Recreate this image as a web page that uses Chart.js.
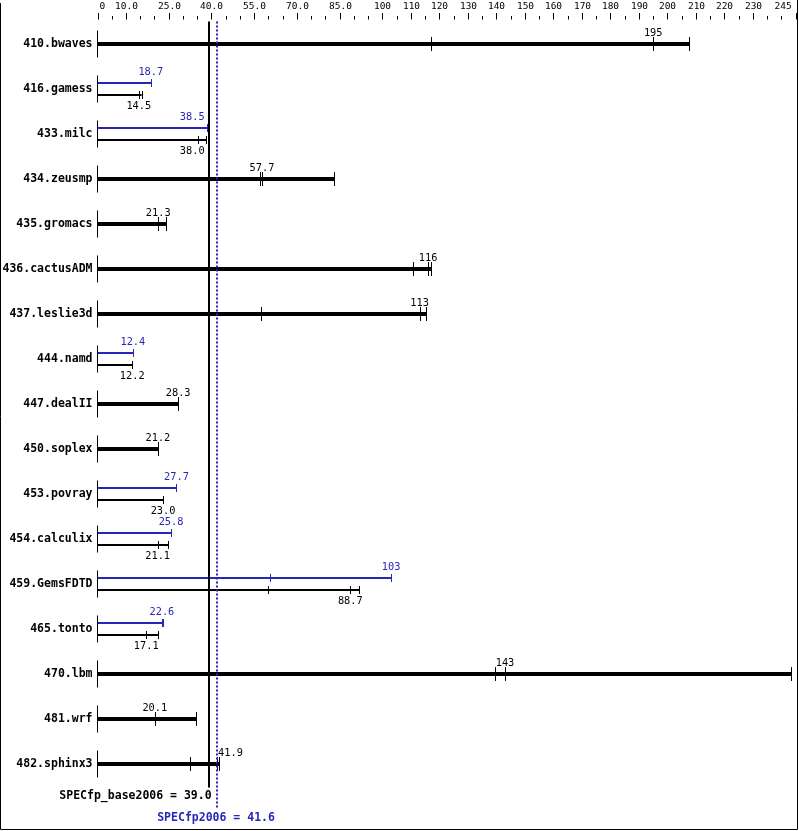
<!DOCTYPE html>
<html>
<head>
<meta charset="utf-8">
<script src="https://cdn.jsdelivr.net/npm/chart.js@4.4.1/dist/chart.umd.min.js"></script>
<style>
  html, body { margin: 0; padding: 0; background: #fff; }
  #wrap { width: 799px; height: 831px; }
</style>
</head>
<body>
<div id="wrap"><canvas id="specChart" width="799" height="831"></canvas></div>
<script>
var benchmarks = ['410.bwaves', '416.gamess', '433.milc', '434.zeusmp', '435.gromacs', '436.cactusADM',
    '437.leslie3d', '444.namd', '447.dealII', '450.soplex', '453.povray', '454.calculix',
    '459.GemsFDTD', '465.tonto', '470.lbm', '481.wrf', '482.sphinx3'];

// median ratio of each benchmark (base run)
var baseMedian = [195, 14.5, 38.0, 57.7, 21.3, 116, 113, 12.2, 28.3, 21.2, 23.0, 21.1, 88.7, 17.1, 143, 20.1, 41.9];
// the three base runs
var baseRuns = [
    [117, 195, 207.7], [14.5, 14.5, 15.5], [35.4, 38.0, 38.2], [56.9, 57.7, 83.0],
    [21.2, 21.3, 24.0], [110.8, 116, 117], [57.5, 113, 115.3], [12.2, 12.2, 12.2],
    [28.3, 28.3, 28.4], [21.2, 21.2, 21.3], [23.0, 23.0, 23.1], [21.1, 21.1, 24.8],
    [59.9, 88.7, 91.8], [17.1, 17.1, 21.2], [139.4, 143, 243.4], [20.1, 20.2, 34.7],
    [32.6, 41.9, 42.7]
];
// peak only where it differs from base
var peakMedian = [null, 18.7, 38.5, null, null, null, null, 12.4, null, null, 27.7, 25.8, 103, 22.6, null, null, null];
var peakRuns = [
    null, [18.7, 18.7, 18.8], [38.5, 38.5, 38.6], null,
    null, null, null, [12.4, 12.4, 12.6],
    null, null, [27.7, 27.7, 27.7], [25.8, 25.8, 25.9],
    [60.6, 103, 103.1], [22.6, 22.6, 23.0], null, null,
    null
];

var baseScore = 39.0;
var peakScore = 41.6;
var axisMax = 245;
var axisStep = 5;
var axisLabels = [0, 10, 25, 40, 55, 70, 85, 100, 110, 120, 130, 140, 150, 160, 170, 180, 190, 200, 210, 220, 230, 245];

var BLUE = '#2626b8';
var MONO = '"DejaVu Sans Mono", "Liberation Mono", monospace';

function maxOf(runs) { return runs ? Math.max.apply(null, runs) : null; }
function fmt(v) { return v >= 100 ? String(Math.round(v)) : v.toFixed(1); }

var specDecor = {
    id: 'specDecor',
    afterDatasetsDraw: function (chart) {
        var ctx = chart.ctx, xs = chart.scales.x, ys = chart.scales.y;
        var area = chart.chartArea;
        var baseX = xs.getPixelForValue(baseScore);
        var peakX = xs.getPixelForValue(peakScore);
        ctx.save();
        ctx.strokeStyle = '#000';
        ctx.lineWidth = 1;

        // top scale
        ctx.font = '9.5px ' + MONO;
        ctx.fillStyle = '#000';
        ctx.textBaseline = 'middle';
        for (var v = 0; v <= axisMax; v += axisStep) {
            var px = Math.round(xs.getPixelForValue(v)) + 0.5;
            var major = axisLabels.indexOf(v) >= 0;
            ctx.beginPath();
            ctx.moveTo(px, major ? 13 : 16);
            ctx.lineTo(px, 19.5);
            ctx.stroke();
            if (major) {
                var t = v === 0 ? '0' : fmt(v);
                var w = ctx.measureText(t).width;
                var lx = Math.max(area.left + 2, Math.min(area.right - 4 - w, px - w / 2));
                ctx.textAlign = 'left';
                ctx.fillText(t, lx, 7);
            }
        }

        // zero line of each row
        var x0 = Math.round(xs.getPixelForValue(0)) - 0.5;
        benchmarks.forEach(function (b, i) {
            var y = ys.getPixelForValue(i);
            ctx.beginPath();
            ctx.moveTo(x0, y - 13.5);
            ctx.lineTo(x0, y + 13.5);
            ctx.stroke();
        });

        // run marks and median labels
        ctx.font = '10.3px ' + MONO;
        [0, 1].forEach(function (d) {
            var meta = chart.getDatasetMeta(d);
            var runsList = d === 0 ? peakRuns : baseRuns;
            var medians = d === 0 ? peakMedian : baseMedian;
            meta.data.forEach(function (el, i) {
                var runs = runsList[i];
                if (!runs) return;
                var thick = d === 1 && !peakRuns[i];
                var half = thick ? 7 : 4;
                var col = d === 0 ? BLUE : '#000';
                ctx.strokeStyle = col;
                runs.forEach(function (r) {
                    var rx = Math.round(xs.getPixelForValue(r)) + 0.5;
                    ctx.beginPath();
                    ctx.moveTo(rx, el.y - half);
                    ctx.lineTo(rx, el.y + half);
                    ctx.stroke();
                });
                var txt = fmt(medians[i]);
                var tw = ctx.measureText(txt).width;
                var cx = xs.getPixelForValue(medians[i]);
                if (cx + tw / 2 > baseX - 3 && cx - tw / 2 < peakX + 3) {
                    cx = medians[i] < baseScore ? baseX - 4 - tw / 2 : peakX + 2 + tw / 2;
                }
                ctx.fillStyle = col;
                ctx.textAlign = 'center';
                ctx.fillText(txt, cx, (d === 0 || thick) ? el.y - 11 : el.y + 11);
            });
        });

        // overall scores
        ctx.strokeStyle = '#000';
        ctx.lineWidth = 2;
        ctx.beginPath();
        ctx.moveTo(Math.round(baseX), area.top);
        ctx.lineTo(Math.round(baseX), area.bottom + 1);
        ctx.stroke();

        ctx.strokeStyle = BLUE;
        ctx.setLineDash([2, 2]);
        ctx.beginPath();
        ctx.moveTo(Math.round(peakX) + 1, area.top);
        ctx.lineTo(Math.round(peakX) + 1, area.bottom + 23);
        ctx.stroke();
        ctx.setLineDash([]);

        ctx.font = 'bold 11.5px ' + MONO;
        ctx.fillStyle = '#000';
        ctx.textAlign = 'right';
        ctx.fillText('SPECfp_base2006 = ' + baseScore.toFixed(1), baseX + 3, area.bottom + 10);
        ctx.fillStyle = BLUE;
        ctx.textAlign = 'center';
        ctx.fillText('SPECfp2006 = ' + peakScore.toFixed(1), peakX, area.bottom + 32);

        // frame
        ctx.strokeStyle = '#000';
        ctx.lineWidth = 1;
        ctx.beginPath();
        ctx.moveTo(0.5, 3);
        ctx.lineTo(0.5, 829.5);
        ctx.lineTo(797.5, 829.5);
        ctx.lineTo(797.5, 0);
        ctx.stroke();
        ctx.restore();
    }
};

var ctx = document.getElementById('specChart').getContext('2d');
var specChart = new Chart(ctx, {
    type: 'bar',
    data: {
        labels: benchmarks,
        datasets: [{
            label: 'Peak',
            data: peakRuns.map(maxOf),
            backgroundColor: BLUE,
            borderWidth: 0
        }, {
            label: 'Base',
            data: baseRuns.map(maxOf),
            backgroundColor: '#000',
            borderWidth: 0
        }]
    },
    options: {
        indexAxis: 'y',
        responsive: false,
        animation: false,
        devicePixelRatio: 1,
        skipNull: true,
        categoryPercentage: 24 / 45,
        barPercentage: 1 / 6,
        layout: { padding: { top: 21.5, right: 3.3, bottom: 44.5, left: 0 } },
        plugins: { legend: { display: false }, tooltip: { enabled: false } },
        scales: {
            x: {
                display: false,
                min: 0,
                max: axisMax
            },
            y: {
                grid: { display: false, drawTicks: false },
                border: { display: false },
                ticks: {
                    autoSkip: false,
                    padding: 5,
                    color: '#000',
                    font: { family: MONO, size: 11.5, weight: 'bold' }
                },
                afterFit: function (scale) { scale.width = 97.5; }
            }
        }
    },
    plugins: [specDecor]
});
</script>
</body>
</html>
